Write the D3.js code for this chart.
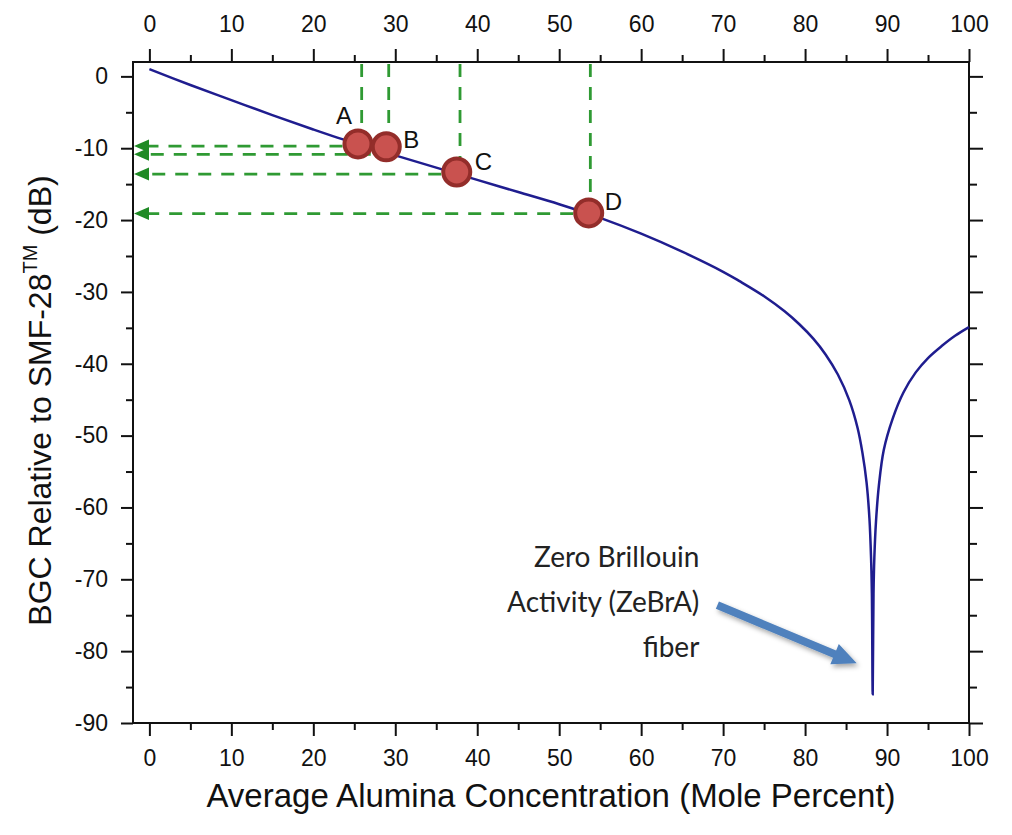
<!DOCTYPE html>
<html>
<head>
<meta charset="utf-8">
<script src="https://cdn.jsdelivr.net/npm/d3@7"></script>
<style>
  body { margin: 0; background: #fff; }
  svg { display: block; font-family: "Liberation Sans", Arial, sans-serif; }
  .axis text { font-size: 23px; fill: #111; }
  .axis path, .axis line { stroke: #111; stroke-width: 2; }
</style>
</head>
<body>
<div id="chart"></div>
<script>
// curve: BGC vs alumina concentration
const alumina = [0, 5, 10, 15, 20, 25, 30, 35, 40, 45, 50, 55, 60, 65, 70, 72, 75, 77.5, 79.3, 81,
  82.5, 84, 85.4, 86.4, 87.0, 87.5, 87.85, 88.05, 88.15, 88.25, 88.35, 88.45, 88.65, 89.0, 89.6,
  90.7, 92, 93.5, 95, 96.7, 98.3, 100];
const bgc = [1.0, -1.2, -3.3, -5.4, -7.4, -9.3, -11.0, -12.7, -14.4, -16.1, -17.8, -19.7, -21.9,
  -24.4, -27.2, -28.5, -30.6, -32.7, -34.5, -36.5, -38.7, -41.5, -45.1, -48.9, -52.4, -56.5, -61.5,
  -67, -72, -86, -72, -67, -62, -57, -52, -47.6, -44.0, -41.2, -39.2, -37.5, -36.1, -34.9];

// fibre samples A-D and their dashed read-off lines
const sampleNames = ['A', 'B', 'C', 'D'];
const sampleX = [25.45, 28.9, 37.5, 53.6];
const sampleY = [-9.4, -9.8, -13.3, -19.0];
const guideX = [25.9, 29.2, 37.9, 53.8];
const guideY = [-9.7, -10.85, -13.6, -19.1];

const xTicks = [0, 10, 20, 30, 40, 50, 60, 70, 80, 90, 100];
const yTicks = [0, -10, -20, -30, -40, -50, -60, -70, -80, -90];

const noteLines = ['Zero Brillouin', 'Activity (ZeBrA)', 'fiber'];

const width = 1012;
const height = 835;
const box = { left: 133, right: 969, top: 62, bottom: 723 };

const svg = d3.select('#chart')
  .append('svg')
  .attr('width', width)
  .attr('height', height);

const fx = d3.scaleLinear().domain([-2, 100]).range([box.left, box.right]);
const fy = d3.scaleLinear().domain([2, -90]).range([box.top, box.bottom]);

const defs = svg.append('defs');
const shadow = defs.append('filter').attr('id', 'shadow')
  .attr('x', '-20%').attr('y', '-20%').attr('width', '140%').attr('height', '160%');
shadow.append('feDropShadow')
  .attr('dx', 2).attr('dy', 3).attr('stdDeviation', 2.5)
  .attr('flood-color', '#000').attr('flood-opacity', 0.35);

// minor ticks first, then major ticks with labels
const minorX = d3.range(5, 100, 10);
const minorY = d3.range(-5, -90, -10);
const plain = d => String(d);

const addAxis = (axis, transform, cls) => svg.append('g')
  .attr('class', `axis ${cls}`)
  .attr('transform', transform)
  .call(axis);

addAxis(d3.axisBottom(fx).tickValues(minorX).tickSize(7).tickSizeOuter(0).tickFormat(''), `translate(0,${box.bottom})`, 'minor');
addAxis(d3.axisTop(fx).tickValues(minorX).tickSize(7).tickSizeOuter(0).tickFormat(''), `translate(0,${box.top})`, 'minor');
addAxis(d3.axisLeft(fy).tickValues(minorY).tickSize(7).tickSizeOuter(0).tickFormat(''), `translate(${box.left},0)`, 'minor');
addAxis(d3.axisRight(fy).tickValues(minorY).tickSize(8).tickSizeOuter(0).tickFormat(''), `translate(${box.right},0)`, 'minor');

addAxis(d3.axisBottom(fx).tickValues(xTicks).tickSize(13).tickSizeOuter(0).tickPadding(14).tickFormat(plain), `translate(0,${box.bottom})`, 'major');
addAxis(d3.axisTop(fx).tickValues(xTicks).tickSize(13).tickSizeOuter(0).tickPadding(17).tickFormat(plain), `translate(0,${box.top})`, 'major');
addAxis(d3.axisLeft(fy).tickValues(yTicks).tickSize(12).tickSizeOuter(0).tickPadding(13).tickFormat(plain), `translate(${box.left},0)`, 'major');
addAxis(d3.axisRight(fy).tickValues(yTicks).tickSize(14).tickSizeOuter(0).tickFormat(''), `translate(${box.right},0)`, 'major');

svg.selectAll('.axis .domain').remove();

svg.append('rect')
  .attr('x', box.left)
  .attr('y', box.top)
  .attr('width', box.right - box.left)
  .attr('height', box.bottom - box.top)
  .attr('fill', 'none')
  .attr('stroke', '#111')
  .attr('stroke-width', 2);

// axis titles
svg.append('text')
  .attr('x', (box.left + box.right) / 2)
  .attr('y', 807)
  .attr('text-anchor', 'middle')
  .attr('font-size', 33)
  .attr('fill', '#111')
  .text('Average Alumina Concentration (Mole Percent)');

const yTitle = svg.append('text')
  .attr('transform', `translate(51,${(box.top + box.bottom) / 2 + 8}) rotate(-90)`)
  .attr('text-anchor', 'middle')
  .attr('font-size', 32)
  .attr('fill', '#111');
yTitle.append('tspan').text('BGC Relative to SMF-28');
yTitle.append('tspan').attr('font-size', 20).attr('dy', -14).text('TM');
yTitle.append('tspan').attr('dy', 14).text(' (dB)');

// curve
const curveData = alumina.map((d, i) => [d, bgc[i]]);
const line = d3.line()
  .x(d => fx(d[0]))
  .y(d => fy(d[1]))
  .curve(d3.curveCatmullRom.alpha(0.5));

svg.append('path')
  .datum(curveData)
  .attr('d', line)
  .attr('fill', 'none')
  .attr('stroke', '#1f1d8f')
  .attr('stroke-width', 2.5);

// dashed guides
const green = '#2f9a33';
const r = 15.5;
const samples = sampleNames.map((name, i) => ({
  name, x: sampleX[i], y: sampleY[i], gx: guideX[i], gy: guideY[i],
}));

const guides = svg.append('g');

guides.selectAll('.vguide')
  .data(samples)
  .join('line')
  .attr('class', 'vguide')
  .attr('x1', d => fx(d.gx))
  .attr('x2', d => fx(d.gx))
  .attr('y1', box.top + 2)
  .attr('y2', d => fy(d.y) - r + 2)
  .attr('stroke', green)
  .attr('stroke-width', 2.8)
  .attr('stroke-dasharray', '13,10');

guides.selectAll('.hguide')
  .data(samples)
  .join('line')
  .attr('class', 'hguide')
  .attr('x1', d => fx(d.x) - r)
  .attr('x2', box.left + 10)
  .attr('y1', d => fy(d.gy))
  .attr('y2', d => fy(d.gy))
  .attr('stroke', green)
  .attr('stroke-width', 2.8)
  .attr('stroke-dasharray', '13,10');

guides.selectAll('.head')
  .data(samples)
  .join('path')
  .attr('class', 'head')
  .attr('d', d => {
    const y = fy(d.gy);
    return `M${box.left + 1},${y} L${box.left + 16},${y - 6.5} L${box.left + 16},${y + 6.5} Z`;
  })
  .attr('fill', '#1f8a25');

// sample markers
svg.selectAll('.sample')
  .data(samples)
  .join('circle')
  .attr('class', 'sample')
  .attr('cx', d => fx(d.x))
  .attr('cy', d => fy(d.y))
  .attr('r', r - 2)
  .attr('fill', '#c9524f')
  .attr('stroke', '#932d2a')
  .attr('stroke-width', 4);

const labelOffset = { A: [-6, -20, 'end'], B: [17, 1, 'start'], C: [18, -2, 'start'], D: [16, -3, 'start'] };

svg.selectAll('.sample-label')
  .data(samples)
  .join('text')
  .attr('class', 'sample-label')
  .attr('x', d => fx(d.x) + labelOffset[d.name][0])
  .attr('y', d => fy(d.y) + labelOffset[d.name][1])
  .attr('text-anchor', d => labelOffset[d.name][2])
  .attr('font-size', 24)
  .attr('fill', '#111')
  .text(d => d.name);

// ZeBrA annotation
const noteX = 67.1;
const noteY = [-68.3, -74.5, -80.8];

svg.selectAll('.note')
  .data(noteLines)
  .join('text')
  .attr('class', 'note')
  .attr('x', fx(noteX))
  .attr('y', (d, i) => fy(noteY[i]))
  .attr('text-anchor', 'end')
  .attr('font-family', 'Lato, "Noto Sans", sans-serif')
  .attr('font-size', 28)
  .attr('fill', '#222')
  .text(d => d);

const arrowFrom = [69.3, -73.6];
const arrowTo = [86.3, -81.7];
const [tx, ty] = [fx(arrowFrom[0]), fy(arrowFrom[1])];
const [px, py] = [fx(arrowTo[0]), fy(arrowTo[1])];
const len = Math.hypot(px - tx, py - ty);
const [ux, uy] = [(px - tx) / len, (py - ty) / len];
const [nx, ny] = [-uy, ux];
const shaft = 4;
const headW = 11;
const headL = 24;
const bx = px - ux * headL;
const by = py - uy * headL;
const pts = [
  [tx + nx * shaft, ty + ny * shaft],
  [bx + nx * shaft, by + ny * shaft],
  [bx + nx * headW, by + ny * headW],
  [px, py],
  [bx - nx * headW, by - ny * headW],
  [bx - nx * shaft, by - ny * shaft],
  [tx - nx * shaft, ty - ny * shaft],
];

svg.append('path')
  .attr('d', `M${pts.map(p => p.join(',')).join('L')}Z`)
  .attr('fill', '#4f81bd')
  .attr('filter', 'url(#shadow)');
</script>
</body>
</html>
